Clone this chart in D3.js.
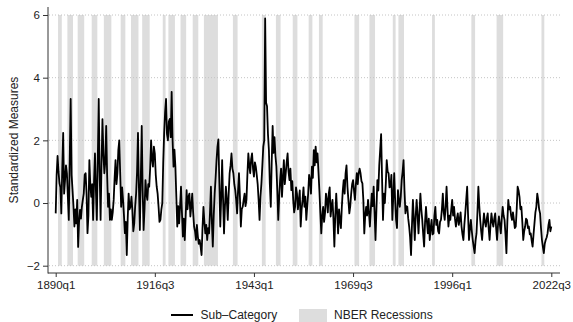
<!DOCTYPE html>
<html><head><meta charset="utf-8">
<script src="https://cdn.jsdelivr.net/npm/d3@7"></script>
<style>body{margin:0;background:#fff}svg{display:block;font-family:"Liberation Sans",Arial,Helvetica,sans-serif}</style>
</head><body><svg id="c" width="573" height="322"></svg>
<script>
// Quarterly readings starting 1890q1, ending 2022q3
const startLabel = "1890q1";
const values = [
-0.33,0.9,1.5,1.0,0.64,0.5,-0.33,1.1,2.24,0.3,0.73,1.2,0.95,0.2,-0.54,1.4,3.32,0.9,0.41,-0.1,
-0.75,-0.2,-0.65,0.1,-1.4,-0.6,-0.22,-0.5,-0.12,0.1,0.3,0.9,0.95,0.3,-0.96,-0.4,1.37,0.6,0.2,0.6,
-0.54,0.7,1.58,0.4,-0.54,1.37,3.32,1.0,-0.54,1.2,2.68,1.6,0.95,1.3,2.46,0.9,-0.12,0.3,-0.54,-0.2,
-0.54,-0.3,0.1,0.8,1.37,0.6,0.95,1.7,2.0,0.9,-0.12,0.5,0.1,-0.4,-0.96,-0.6,-1.66,-0.5,0.3,-0.2,
-0.12,0.2,-0.22,-0.9,-0.65,-0.1,0.3,1.0,2.24,0.5,-0.86,0.8,2.46,0.4,-0.86,-0.2,0.73,0.3,0.1,0.6,
0.52,1.1,2.0,1.4,1.16,1.8,1.58,0.9,0.52,0.3,-0.12,-0.6,-0.54,-0.2,0,1.3,2.24,2.9,3.32,2.2,
2.0,2.6,2.68,2.1,3.55,2.0,1.16,1.7,1.16,0.2,-0.75,-0.1,-0.65,-0.1,0.52,-0.3,-1.07,-0.5,-1.18,-0.4,
0.41,-0.2,0.2,0.3,-0.43,-0.1,0.3,-0.3,-0.75,-0.9,-1.18,-0.7,-1.07,-1.3,-1.18,-1.4,-1.66,-0.8,-0.12,-0.6,
-0.97,-0.7,-1.18,-0.8,-0.97,-0.3,0.52,-0.6,-1.39,-0.4,0.3,0.8,1.37,1.8,2.03,0.6,-0.75,0.2,1.37,0.1,
-0.97,-0.1,0.52,0.1,-0.54,0.3,0.95,1.2,1.58,1.1,0.95,0.6,0.41,0.1,-0.33,0.4,0.95,0.2,-0.75,-0.2,
-0.12,0.1,0.3,-0.1,0.1,0.9,1.58,1.2,0.95,1.4,1.58,1.1,0.84,1.3,1.16,0.9,0.6,0.1,-0.54,0.2,
0.63,1.2,1.8,2.0,5.89,3.2,3.09,2.2,1.69,0.6,-0.12,1.3,2.46,1.6,2.1,1.5,1.16,0.4,-0.54,0.2,
0.73,1.1,0.2,0.8,1.37,0.6,0.95,1.3,1.58,1.0,0.73,1.1,0.41,0.7,0.1,-0.3,-0.12,0.5,0.3,-0.2,
0.1,0.4,-0.75,-0.2,0.1,0.5,-0.12,0.2,-0.54,-0.1,0.3,0.9,0.73,0.3,1.16,0.8,1.69,1.2,1.8,1.3,
1.58,1.0,0.4,-0.3,-0.97,-0.4,-0.12,-0.6,-0.33,0.3,0.1,-0.3,0.3,0.5,-0.43,-0.1,0.1,-0.5,-1.39,-0.4,
0.3,-0.3,-0.97,-0.2,-0.54,-0.8,-0.12,0.4,0.73,0.3,0.95,1.2,0.52,0.1,-0.33,-0.1,0.3,0.6,0.73,0.4,
0.1,0.6,0.95,0.6,0.95,1.1,0.95,0.7,0.63,0.1,-0.97,-0.4,-0.12,-0.4,0.1,-0.3,-0.75,-0.2,0.3,-0.1,
0.52,-0.3,-1.18,-0.2,0.73,0.4,1.2,1.7,2.2,0.8,-0.54,0.3,0,0.6,1.37,1.0,0.95,0.5,0.52,0.9,
-0.54,0.2,0.95,0.1,-0.54,-0.8,0.41,0.1,-0.12,0.2,0.73,1.0,1.37,0.4,-0.33,-0.1,-0.12,-0.5,-0.75,-1.1,
-1.66,-0.7,0.1,-0.5,-1.18,-0.4,0.1,-0.4,-0.97,-0.3,0.3,-0.2,-0.54,-1.0,-1.39,-0.6,-0.12,-0.6,-0.97,-0.5,
-1.18,-0.8,-0.54,-1.0,-0.97,-0.4,-0.12,-0.7,-0.54,-0.9,-0.97,-0.6,-0.54,-0.2,0.3,-0.3,-0.54,-0.1,0.52,-0.2,
-0.75,-0.4,-0.54,-0.2,0.1,-0.4,-0.12,-0.5,-0.75,-0.5,-0.33,-0.7,-0.54,-0.3,-0.75,-1.0,-1.18,-0.7,-0.33,0.1,
0.52,-0.4,-1.18,-0.8,-0.54,-0.9,-1.18,-1.4,-1.6,-1.2,-0.97,-0.3,0.52,-0.1,-0.54,-0.9,-1.18,-0.7,-0.33,-0.6,
-0.75,-0.5,-0.33,-0.8,-1.18,-0.7,-0.33,-0.6,-0.75,-0.5,-0.33,-0.8,-1.18,-0.7,-0.43,-0.7,-0.97,-0.5,-0.12,-0.4,
-0.54,-1.0,-1.6,-0.6,0.1,-0.2,-0.12,-0.4,-0.54,-0.3,-0.54,-0.8,-0.75,-0.2,0.52,0.4,0.2,-0.2,-0.12,-0.6,
-1.18,-0.9,-0.75,-0.5,-0.54,-0.8,-0.75,-1.0,-0.97,-1.2,-1.39,-1.0,-0.65,-0.3,-0.12,0.3,0.1,-0.2,-0.33,-0.8,
-1.18,-1.4,-1.6,-1.3,-1.18,-1.1,-0.97,-0.7,-0.54,-0.9,-0.75
];
// NBER recessions: peak quarter, trough quarter
const recessionPeaks   = ["1890q3","1893q1","1895q4","1899q3","1902q4","1907q2","1910q1","1913q1","1918q3","1920q1","1923q2","1926q3","1929q3","1937q2","1945q1","1948q4","1953q2","1957q3","1960q2","1969q4","1973q4","1980q1","1981q3","1990q3","2001q1","2007q4","2019q4"];
const recessionTroughs = ["1891q2","1894q2","1897q2","1900q4","1904q3","1908q2","1911q4","1914q4","1919q1","1921q3","1924q3","1927q4","1933q1","1938q2","1945q4","1949q4","1954q2","1958q2","1961q1","1970q4","1975q1","1980q3","1982q4","1991q1","2001q4","2009q2","2020q2"];
const yTicks = [-2,0,2,4,6];
const xTickLabels = ["1890q1","1916q3","1943q1","1969q3","1996q1","2022q3"];
const seriesName = "Sub\u2013Category";
const bandName = "NBER Recessions";
const yTitle = "Standardized Measures";

const qIndex = s => { const [yr,q] = s.split("q").map(Number); const [y0,q0] = startLabel.split("q").map(Number); return (yr-y0)*4 + (q-q0); };

const svg = d3.select("#c");
const x = d3.scaleLinear().domain([0, qIndex("2022q3")]).range([55.7, 551.3]);
const y = d3.scaleLinear().domain([-2, 6]).range([265.7, 15]);
const plotL = 48, plotR = 560, plotB = 273, plotT = 7;

// recession bands
svg.append("g").selectAll("rect").data(recessionPeaks.map((p,i)=>[qIndex(p), qIndex(recessionTroughs[i])]))
  .join("rect")
  .attr("x", d => x(d[0]+0.5)).attr("width", d => x(d[1]+1.5)-x(d[0]+0.5))
  .attr("y", y(6)).attr("height", y(-2)-y(6)).attr("fill", "#dddddd");

// gridlines
svg.append("g").selectAll("line").data(yTicks).join("line")
  .attr("x1", plotL+1).attr("x2", plotR).attr("y1", d=>y(d)).attr("y2", d=>y(d))
  .attr("stroke", "#c4c4c4").attr("stroke-width", 1).attr("stroke-dasharray", "1,2");

// series line
const line = d3.line().x((d,i)=>x(i)).y(d=>y(d));
svg.append("path").datum(values).attr("d", line)
  .attr("fill","none").attr("stroke","#000").attr("stroke-width",1.8).attr("stroke-linejoin","round");

// axes
const yAxis = svg.append("g").attr("transform",`translate(${plotL},0)`)
  .call(d3.axisLeft(y).tickValues(yTicks).tickSize(5).tickPadding(3).tickFormat(d => d < 0 ? "\u2212"+Math.abs(d) : d));
yAxis.select(".domain").remove();
const xAxis = svg.append("g").attr("transform",`translate(0,${plotB})`)
  .call(d3.axisBottom(x).tickValues(xTickLabels.map(qIndex)).tickSize(4).tickPadding(4).tickFormat((d,i)=>xTickLabels[i]));
xAxis.select(".domain").remove();
svg.selectAll(".tick line").attr("stroke","#333");
svg.selectAll(".tick text").attr("font-size","11.5px").attr("fill","#222").attr("font-family",'"Liberation Sans",Arial,sans-serif');
svg.append("line").attr("x1",plotL).attr("x2",plotL).attr("y1",plotT).attr("y2",plotB+0.5).attr("stroke","#333");
svg.append("line").attr("x1",plotL).attr("x2",plotR).attr("y1",plotB).attr("y2",plotB).attr("stroke","#333");

// y title
svg.append("text").attr("transform","translate(18,140) rotate(-90)").attr("text-anchor","middle")
  .attr("font-size","12px").attr("fill","#222").text(yTitle);

// legend
const lg = svg.append("g");
lg.append("line").attr("x1",171).attr("x2",193).attr("y1",315).attr("y2",315).attr("stroke","#000").attr("stroke-width",2);
lg.append("text").attr("x",200.5).attr("y",319.3).attr("font-size","12px").attr("fill","#222").text(seriesName);
lg.append("rect").attr("x",299).attr("y",309).attr("width",28).attr("height",14).attr("fill","#dddddd");
lg.append("text").attr("x",334).attr("y",319.3).attr("font-size","12px").attr("fill","#222").text(bandName);
</script></body></html>
